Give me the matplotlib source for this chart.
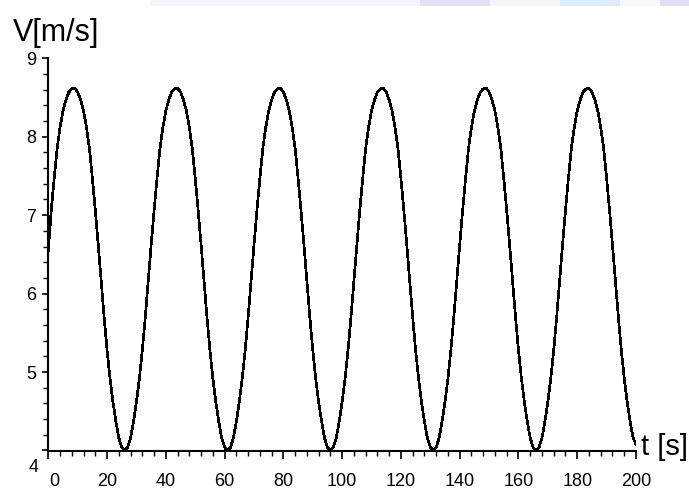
import numpy as np
import matplotlib
matplotlib.use("Agg")
import matplotlib.pyplot as plt
from matplotlib.ticker import MultipleLocator
from matplotlib.patches import Rectangle

plt.rcParams["font.family"] = ["Liberation Sans", "DejaVu Sans"]

# time samples [s], one per second
t_s = np.arange(0, 201)

# velocity [m/s], t = 0 .. 200
v_ms = [
    6.55, 7.06, 7.47, 7.85, 8.12, 8.33, 8.47, 8.57, 8.61, 8.62,
    8.57, 8.47, 8.33, 8.12, 7.85, 7.47, 7.06, 6.62, 6.16, 5.70,
    5.28, 4.92, 4.62, 4.37, 4.16, 4.04,
    # t = 26 .. 60
    4.00, 4.04, 4.16, 4.37, 4.62, 4.92, 5.28, 5.70, 6.16, 6.62,
    7.06, 7.47, 7.85, 8.12, 8.33, 8.47, 8.57, 8.61, 8.62, 8.57,
    8.47, 8.33, 8.12, 7.85, 7.47, 7.06, 6.62, 6.16, 5.70, 5.28,
    4.92, 4.62, 4.37, 4.16, 4.04,
    # t = 61 .. 95
    4.00, 4.04, 4.16, 4.37, 4.62, 4.92, 5.28, 5.70, 6.16, 6.62,
    7.06, 7.47, 7.85, 8.12, 8.33, 8.47, 8.57, 8.61, 8.62, 8.57,
    8.47, 8.33, 8.12, 7.85, 7.47, 7.06, 6.62, 6.16, 5.70, 5.28,
    4.92, 4.62, 4.37, 4.16, 4.04,
    # t = 96 .. 130
    4.00, 4.04, 4.16, 4.37, 4.62, 4.92, 5.28, 5.70, 6.16, 6.62,
    7.06, 7.47, 7.85, 8.12, 8.33, 8.47, 8.57, 8.61, 8.62, 8.57,
    8.47, 8.33, 8.12, 7.85, 7.47, 7.06, 6.62, 6.16, 5.70, 5.28,
    4.92, 4.62, 4.37, 4.16, 4.04,
    # t = 131 .. 165
    4.00, 4.04, 4.16, 4.37, 4.62, 4.92, 5.28, 5.70, 6.16, 6.62,
    7.06, 7.47, 7.85, 8.12, 8.33, 8.47, 8.57, 8.61, 8.62, 8.57,
    8.47, 8.33, 8.12, 7.85, 7.47, 7.06, 6.62, 6.16, 5.70, 5.28,
    4.92, 4.62, 4.37, 4.16, 4.04,
    # t = 166 .. 200
    4.00, 4.04, 4.16, 4.37, 4.62, 4.92, 5.28, 5.70, 6.16, 6.62,
    7.06, 7.47, 7.85, 8.12, 8.33, 8.47, 8.57, 8.61, 8.62, 8.57,
    8.47, 8.33, 8.12, 7.85, 7.47, 7.06, 6.62, 6.16, 5.70, 5.28,
    4.92, 4.62, 4.37, 4.16, 4.08,
]

x_ticks = [0, 20, 40, 60, 80, 100, 120, 140, 160, 180, 200]
y_ticks = [4, 5, 6, 7, 8, 9]

fig = plt.figure(figsize=(6.89, 4.91), dpi=100)
fig.patch.set_facecolor("white")

# faint watermark band along the top edge
band = [
    (150, 420, "#f4f5fc"),
    (420, 490, "#e3e1f7"),
    (490, 560, "#f6f5fc"),
    (560, 620, "#dcedf9"),
    (620, 660, "#f7f7fc"),
    (660, 689, "#e0def5"),
]
for x0, x1, c in band:
    fig.patches.append(
        Rectangle((x0 / 689, 1 - 6 / 491), (x1 - x0) / 689, 6 / 491,
                  transform=fig.transFigure, facecolor=c, edgecolor="none")
    )

ax = fig.add_axes([48.3 / 689, 40.5 / 491, 587.7 / 689, 392.2 / 491])
ax.plot(t_s, v_ms, color="black", linewidth=1.2, antialiased=False)

ax.set_xlim(0, 200)
ax.set_ylim(4, 9)
ax.spines["top"].set_visible(False)
ax.spines["right"].set_visible(False)
ax.spines["left"].set_linewidth(1.5)
ax.spines["bottom"].set_linewidth(1.5)

ax.set_xticks(x_ticks)
ax.set_xticklabels([""] + [str(v) for v in x_ticks[1:]])
ax.set_yticks(y_ticks)
ax.set_yticklabels([""] + [str(v) for v in y_ticks[1:]])
ax.xaxis.set_minor_locator(MultipleLocator(4))
ax.yaxis.set_minor_locator(MultipleLocator(0.2))

ax.tick_params(axis="x", which="major", direction="out", length=6, width=1.2,
               pad=10, labelsize=13)
ax.tick_params(axis="x", which="minor", direction="out", length=3.5, width=1.0)
ax.tick_params(axis="y", which="major", direction="out", length=4, width=1.2,
               pad=4.5, labelsize=13)
ax.tick_params(axis="y", which="minor", direction="out", length=3.5, width=1.0)

# the "0" and "4" labels sit apart from the corner
ax.annotate("0", xy=(0, 4), xytext=(6, -22), textcoords="offset pixels",
            ha="center", va="top", fontsize=13)
ax.annotate("4", xy=(0, 4), xytext=(-15, -17), textcoords="offset pixels",
            ha="center", va="center", fontsize=13)

fig.text(13 / 689, 1 - 41 / 491, "V[m/s]", fontsize=22, ha="left", va="baseline")
fig.text(641 / 689, 1 - 455 / 491, "t [s]", fontsize=21, ha="left", va="baseline")

fig.savefig("out.png", dpi=100)
plt.close(fig)
